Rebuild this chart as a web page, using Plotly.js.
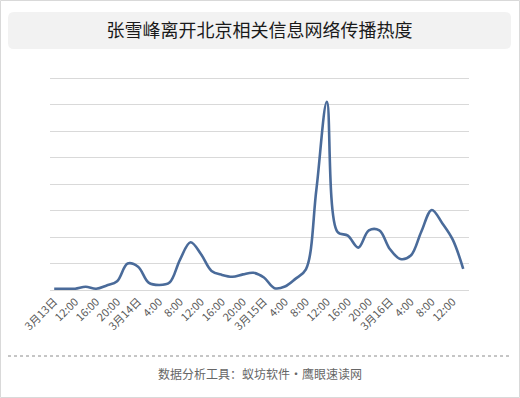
<!DOCTYPE html>
<html>
<head>
<meta charset="utf-8">
<script src="https://cdn.plot.ly/plotly-3.0.1.min.js"></script>
<style>
html,body{margin:0;padding:0;background:#fff;}
#chart{width:520px;height:398px;}
</style>
</head>
<body>
<div id="chart"></div>
<script>
// ---- data ----
const chartTitle = "张雪峰离开北京相关信息网络传播热度";
const footerText = "数据分析工具：蚁坊软件・鹰眼速读网";

const times = [
  "3/13 08:00","3/13 10:00","3/13 12:00","3/13 14:00","3/13 16:00","3/13 18:00","3/13 20:00","3/13 22:00",
  "3/14 00:00","3/14 02:00","3/14 04:00","3/14 06:00","3/14 08:00","3/14 10:00","3/14 12:00","3/14 14:00",
  "3/14 16:00","3/14 18:00","3/14 20:00","3/14 22:00",
  "3/15 00:00","3/15 02:00","3/15 04:00","3/15 06:00","3/15 08:00","3/15 10:00","3/15 12:00","3/15 14:00",
  "3/15 16:00","3/15 18:00","3/15 20:00","3/15 22:00",
  "3/16 00:00","3/16 02:00","3/16 04:00","3/16 06:00","3/16 08:00","3/16 10:00","3/16 12:00","3/16 14:00"
];

const heat = [
  5, 5, 5, 12, 5, 17, 33, 100, 88, 28,
  19, 28, 115, 180, 135, 72, 57, 50, 59, 65,
  47, 7, 13, 42, 78, 380, 710, 220, 205, 160,
  225, 225, 155, 117, 130, 220, 302, 252, 190, 80
];

const tickLabels = [
  "3月13日","12:00","16:00","20:00","3月14日","4:00","8:00","12:00","16:00","20:00",
  "3月15日","4:00","8:00","12:00","16:00","20:00","3月16日","4:00","8:00","12:00"
];

// ---- layout helpers (pixel -> paper) ----
const W = 520, H = 398;
const M = {l: 50, r: 51, t: 76, b: 108};
const PW = W - M.l - M.r, PH = H - M.t - M.b;
const px = x => (x - M.l) / PW;
const py = y => (H - M.b - y) / PH;
const yTop = 800 * PH / (H - M.b - 78);   // so that 800 sits on pixel row 78

function roundRectPath(x0, y0, x1, y1, r) {
  const f = (x, y) => px(x) + "," + py(y);
  return "M" + f(x0 + r, y0) +
    " L" + f(x1 - r, y0) + " Q" + f(x1, y0) + " " + f(x1, y0 + r) +
    " L" + f(x1, y1 - r) + " Q" + f(x1, y1) + " " + f(x1 - r, y1) +
    " L" + f(x0 + r, y1) + " Q" + f(x0, y1) + " " + f(x0, y1 - r) +
    " L" + f(x0, y0 + r) + " Q" + f(x0, y0) + " " + f(x0 + r, y0) + " Z";
}

const FONT = '"Noto Sans CJK SC", "Noto Sans", sans-serif';

const trace = {
  type: "scatter",
  mode: "lines",
  x: times,
  y: heat,
  line: {color: "#4a6b9a", width: 2.6, shape: "spline", smoothing: 1},
  hoverinfo: "x+y"
};

const layout = {
  width: W, height: H,
  margin: M,
  paper_bgcolor: "#ffffff",
  plot_bgcolor: "#ffffff",
  showlegend: false,
  font: {family: FONT, color: "#595959"},
  title: {
    text: chartTitle,
    font: {family: FONT, size: 18, color: "#1a1a1a"},
    x: 0.5, xanchor: "center",
    y: 1 - 31 / H, yanchor: "middle",
    xref: "paper"
  },
  xaxis: {
    type: "category",
    range: [-0.4, times.length - 0.45],
    tickmode: "array",
    tickvals: times.filter((_, i) => i % 2 === 0),
    ticktext: tickLabels,
    tickangle: -45,
    tickfont: {family: FONT, size: 11, color: "#595959"},
    showgrid: false,
    showline: true,
    linecolor: "#d9d9d9",
    linewidth: 1,
    ticks: "",
    zeroline: false,
    fixedrange: true
  },
  yaxis: {
    range: [0, yTop],
    tick0: 0,
    dtick: 100,
    showticklabels: false,
    showgrid: true,
    gridcolor: "#d9d9d9",
    gridwidth: 1,
    zeroline: false,
    showline: false,
    ticks: "",
    fixedrange: true
  },
  shapes: [
    // outer border
    {type: "rect", xref: "paper", yref: "paper", x0: px(0.5), x1: px(519.5), y0: py(0.5), y1: py(397.5),
     line: {color: "#d9d9d9", width: 1}, fillcolor: "rgba(0,0,0,0)", layer: "below"},
    // title box
    {type: "path", xref: "paper", yref: "paper", path: roundRectPath(8, 12, 511, 49, 6),
     fillcolor: "#f2f2f2", line: {width: 0}, layer: "below"},
    // footer dotted line
    {type: "line", xref: "paper", yref: "paper", x0: px(8), x1: px(511), y0: py(356), y1: py(356),
     line: {color: "#8c8c8c", width: 1, dash: "dot"}}
  ],
  annotations: [
    {text: footerText, xref: "paper", yref: "paper", x: px(260), y: py(373),
     xanchor: "center", yanchor: "middle", showarrow: false,
     font: {family: FONT, size: 12, color: "#666666"}}
  ]
};

Plotly.newPlot("chart", [trace], layout, {displayModeBar: false, staticPlot: true});
</script>
</body>
</html>
